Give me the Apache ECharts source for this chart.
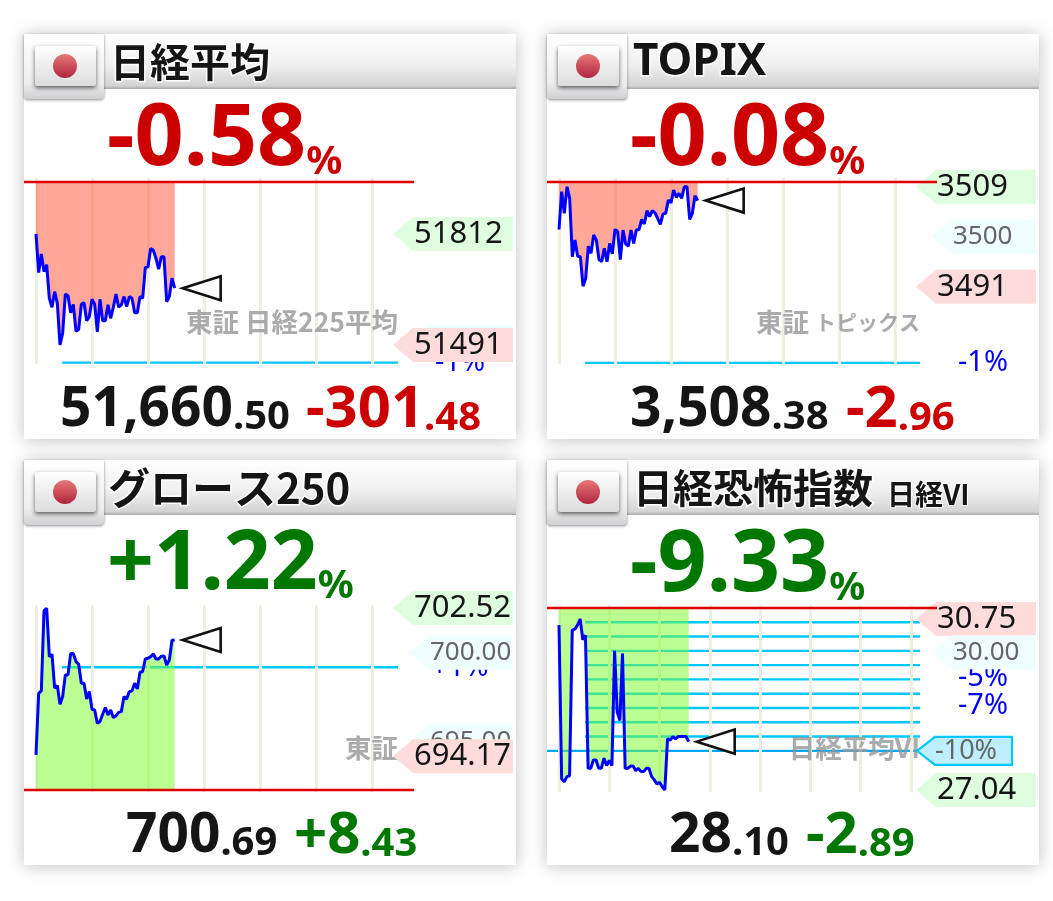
<!DOCTYPE html>
<html>
<head>
<meta charset="utf-8">
<style>html,body{margin:0;padding:0;background:#fff}#main{width:1053px;height:901px}</style>
<script src="https://cdn.jsdelivr.net/npm/echarts@6/dist/echarts.min.js"></script>
</head>
<body>
<div id="main"></div>
<script>
// intraday values
var nikkeiValues = [51812,51700,51754,51703,51723,51626,51600,51645,51611,51491,51525,51638,51633,51584,51608,51531,51536,51608,51614,51561,51573,51623,51609,51529,51623,51561,51561,51607,51568,51600,51638,51600,51607,51631,51602,51631,51626,51584,51584,51631,51626,51715,51717,51770,51765,51741,51710,51746,51746,51616,51631,51684,51655];
var topixValues = [3501.3,3508.1,3504.2,3509.0,3506.9,3496.4,3499.4,3496.5,3496.4,3491.1,3492.5,3498.3,3497.0,3500.3,3499.4,3495.9,3495.5,3497.9,3495.5,3498.8,3496.9,3501.3,3500.9,3495.9,3501.2,3498.7,3498.3,3501.2,3498.8,3501.2,3501.3,3503.1,3502.3,3504.7,3503.6,3504.7,3504.3,3503.3,3502.2,3504.1,3504.2,3506.6,3506.1,3508.4,3507.1,3507.8,3506.9,3509.0,3509.0,3503.1,3504.2,3507.4,3506.5];
var growthValues = [694.24,697.71,697.85,702.36,702.51,699.78,699.91,698.0,698.15,697.09,697.53,698.75,698.75,699.95,699.95,699.5,699.35,698.28,698.28,697.39,697.81,696.81,696.77,696.02,696.12,696.53,696.91,696.49,696.77,696.34,696.45,696.64,696.68,697.53,697.39,697.81,697.85,698.28,697.96,698.9,698.94,699.65,699.69,699.78,699.93,699.65,699.65,699.8,699.82,699.31,699.59,700.7,700.72];
var vixValues = [30.62,27.28,27.22,27.33,27.35,30.51,30.53,30.62,30.75,30.30,30.40,27.51,27.51,27.69,27.69,27.51,27.51,27.73,27.57,27.68,27.57,30.06,28.73,28.55,30.00,27.51,27.51,27.56,27.56,27.46,27.51,27.44,27.44,27.51,27.51,27.33,27.26,27.17,27.21,27.11,27.04,28.15,28.12,28.20,28.15,28.20,28.20,28.20,28.20,28.09];

var titles = ['日経平均', 'TOPIX', 'グロース250', '日経恐怖指数'];
var pctTexts = ['-0.58', '-0.08', '+1.22', '-9.33'];
var priceInts = ['51,660', '3,508', '700', '28'];
var priceDecs = ['.50', '.38', '.69', '.10'];
var chgInts = ['-301', '-2', '+8', '-2'];
var chgDecs = ['.48', '.96', '.43', '.89'];

var prevCloses = [51962, 3509.85, 692.26, 30.99];
var percentLevels = [[51440], [3477.3], [699.18], [30.68,30.37,30.06,29.75,29.44,29.13,28.82,28.51,28.2]];
var percentLabels = [['-1%'], ['-1%'], ['+1%'], [null,null,null,null,'-5%',null,'-7%',null,null]];
var tagLevels = [[51500,51812,51491], [3509,3500,3491], [702.52,700,695,694.17], [30.75,30.03,27.04]];
var tagTexts = [['51500','51812','51491'], ['3509','3500','3491'], ['702.52','700.00','695.00','694.17'], ['30.75','30.00','27.04']];
var tagKinds = [['mid','hi','lo'], ['hi','mid','lo'], ['hi','mid','mid','lo'], ['lo','mid','hi']];
var vixBand = {level: 27.89, text: '-10%'};

var RED = '#cc0000', GREEN = '#007800';
var textColors = [RED, RED, GREEN, GREEN];
var areaColors = ['rgba(255,80,50,0.5)', 'rgba(255,80,50,0.5)', 'rgba(120,255,40,0.5)', 'rgba(120,255,40,0.5)'];
var panels = [
  {x: 24, y: 34, data: nikkeiValues, yMin: 51436, yMax: 51973.6, gl: 36, gt: 178, gw: 336, gh: 186, iv: 21, max: 126, tip: 393, txt: 107, pctSize: 86, pr: 60, ch: 306, tx: 110, titleSize: 40, lineTo: 398, pctShift: 0},
  {x: 547, y: 34, data: topixValues, yMin: 3477.09, yMax: 3510.57, gl: 559, gt: 178, gw: 336, gh: 186, iv: 21, max: 126, tip: 916, txt: 630, pctSize: 86, pr: 630, ch: 846, tx: 633, titleSize: 44, lineTo: 920, pctShift: 0},
  {x: 24, y: 460, data: growthValues, yMin: 692.15, yMax: 702.69, gl: 36, gt: 605, gw: 336, gh: 187, iv: 21, max: 126, tip: 393, txt: 107, pctSize: 82, pr: 126, ch: 294, tx: 108, titleSize: 42, lineTo: 398, pctShift: 0},
  {x: 547, y: 460, data: vixValues, yMin: 26.997, yMax: 31.055, gl: 559, gt: 605, gw: 352, gh: 187, iv: 19, max: 133, tip: 916, txt: 630, pctSize: 86, pr: 669, ch: 806, tx: 633, titleSize: 40, lineTo: 920, pctShift: -2}
];
var CARD_W = 492, CARD_H = 405;
var NUM_FONT = '"Noto Sans", sans-serif';
var JP_FONT = '"Noto Sans CJK JP", sans-serif';
var WM_FONT = 'bold 26.5px ' + JP_FONT;
var WM_COLOR = 'rgba(150,150,150,0.8)';

// watermark text, the kana in TOPIX is narrower than the kanji
var watermarks = [
  {text: '東証 日経225平均', y: 322},
  {text: '{a|東証 }{b|トピックス}', y: 322},
  {text: '東証', y: 748},
  {text: '日経平均VI', y: 748}
];

var graphics = [], grids = [], xAxes = [], yAxes = [], series = [];

function hLine(n, level, x1, x2, color, width, z) {
  series.push({type: 'custom', xAxisIndex: n, yAxisIndex: n, z: z, silent: true, clip: false,
    data: [[0, level]],
    renderItem: function (params, api) {
      var c = api.coord([0, api.value(1)]);
      return {type: 'line', shape: {x1: x1, y1: c[1], x2: x2, y2: c[1]}, style: {stroke: color, lineWidth: width}};
    }});
}

panels.forEach(function (p, n) {
  var col = textColors[n];

  // card + header
  graphics.push({type: 'rect', z: -10, shape: {x: p.x, y: p.y, width: CARD_W, height: CARD_H},
    style: {fill: '#fff', shadowBlur: 16, shadowColor: 'rgba(0,0,0,0.25)', shadowOffsetY: 1}});
  graphics.push({type: 'rect', z: -9, shape: {x: p.x, y: p.y, width: CARD_W, height: 55},
    style: {fill: new echarts.graphic.LinearGradient(0, 0, 0, 1, [{offset: 0, color: '#ffffff'}, {offset: 0.55, color: '#f0f0f0'}, {offset: 0.94, color: '#d4d4d4'}, {offset: 1, color: '#a8a8a8'}])}});
  graphics.push({type: 'rect', z: -8, shape: {x: p.x, y: p.y, width: 80, height: 65, r: [0, 0, 4, 4]},
    style: {fill: new echarts.graphic.LinearGradient(0, 0, 0, 1, [{offset: 0, color: '#ffffff'}, {offset: 0.75, color: '#eeeeee'}, {offset: 1, color: '#cfd0d2'}]), shadowBlur: 3, shadowColor: 'rgba(0,0,0,0.45)', shadowOffsetY: 1}});
  graphics.push({type: 'rect', z: -7, shape: {x: p.x + 11, y: p.y + 12, width: 61, height: 40, r: 2},
    style: {fill: new echarts.graphic.LinearGradient(0, 0, 0, 1, [{offset: 0, color: '#ffffff'}, {offset: 1, color: '#dcdcdc'}]), shadowBlur: 4, shadowColor: 'rgba(0,0,0,0.6)', shadowOffsetY: 2}});
  graphics.push({type: 'circle', z: -6, shape: {cx: p.x + 41, cy: p.y + 32, r: 12},
    style: {fill: new echarts.graphic.LinearGradient(0, 0, 0, 1, [{offset: 0, color: '#e87878'}, {offset: 1, color: '#b02540'}])}});

  // title
  graphics.push({type: 'text', z: 6, style: {x: p.tx, y: p.y + 28, text: titles[n], fill: '#151515', stroke: '#fff', lineWidth: 3,
    font: 'bold ' + p.titleSize + 'px ' + (n === 1 ? NUM_FONT : JP_FONT), textVerticalAlign: 'middle'}});
  if (n === 3) {
    graphics.push({type: 'text', z: 6, style: {x: p.x + 340, y: p.y + 34, text: '日経VI', fill: '#151515', stroke: '#fff', lineWidth: 2,
      font: 'bold 28px ' + JP_FONT, textVerticalAlign: 'middle'}});
  }

  // change percent
  graphics.push({type: 'text', z: 6, style: {x: p.txt, y: p.y + 106, text: '{a|' + pctTexts[n] + '}{b|%}', textVerticalAlign: 'middle',
    rich: {a: {font: 'bold ' + p.pctSize + 'px ' + NUM_FONT, fill: col, verticalAlign: 'bottom'}, b: {font: 'bold 40px ' + NUM_FONT, fill: col, verticalAlign: 'bottom'}}}});

  // bottom prices
  graphics.push({type: 'text', z: 6, style: {x: p.pr, y: p.y + 376, text: '{a|' + priceInts[n] + '}{b|' + priceDecs[n] + '}', textVerticalAlign: 'middle',
    rich: {a: {font: 'bold 55px ' + NUM_FONT, fill: '#151515', verticalAlign: 'bottom'}, b: {font: 'bold 40px ' + NUM_FONT, fill: '#151515', verticalAlign: 'bottom'}}}});
  graphics.push({type: 'text', z: 6, style: {x: p.ch, y: p.y + 376, text: '{a|' + chgInts[n] + '}{b|' + chgDecs[n] + '}', textVerticalAlign: 'middle',
    rich: {a: {font: 'bold 58px ' + NUM_FONT, fill: col, verticalAlign: 'bottom'}, b: {font: 'bold 40px ' + NUM_FONT, fill: col, verticalAlign: 'bottom'}}}});

  // exchange watermark
  graphics.push({type: 'text', z: 4, style: {x: p.lineTo, y: watermarks[n].y, text: watermarks[n].text, fill: WM_COLOR,
    font: WM_FONT, textAlign: 'right', textVerticalAlign: 'middle',
    rich: {a: {font: WM_FONT, fill: WM_COLOR}, b: {font: 'bold 21px ' + JP_FONT, fill: WM_COLOR}}}});

  grids.push({left: p.gl, top: p.gt, width: p.gw, height: p.gh});
  xAxes.push({type: 'value', gridIndex: n, min: 0, max: p.max, interval: p.iv, z: 1,
    axisLine: {show: false}, axisTick: {show: false}, axisLabel: {show: false},
    splitLine: {show: true, lineStyle: {color: '#efeee3', width: 3}}});
  yAxes.push({type: 'value', gridIndex: n, min: p.yMin, max: p.yMax, show: false});

  // percent guide lines
  percentLevels[n].forEach(function (lv) {
    hLine(n, lv, p.x + 38, p.lineTo, '#00c8ff', 2.4, 0);
  });
  if (n === 3) hLine(n, vixBand.level, p.x, p.lineTo, '#00a8f8', 2.2, 0);

  // previous close line
  hLine(n, prevCloses[n], p.x, p.x + 390, '#e00000', 2.4, 6);

  // price line with fill up to the previous close
  series.push({type: 'line', xAxisIndex: n, yAxisIndex: n, z: 2, symbol: 'none', clip: false,
    lineStyle: {color: '#0000ff', width: 3},
    areaStyle: {origin: prevCloses[n], opacity: 1, color: areaColors[n]},
    data: p.data.map(function (v, i) { return [i, v]; })});

  // percent labels, then price tags on top of them
  var pctRows = [];
  percentLabels[n].forEach(function (t, i) { if (t) pctRows.push({t: t, lv: percentLevels[n][i]}); });
  series.push({type: 'custom', xAxisIndex: n, yAxisIndex: n, z: 4, silent: true, clip: false,
    data: pctRows.map(function (r) { return [0, r.lv]; }),
    renderItem: function (params, api) {
      var c = api.coord([0, api.value(1)]);
      return {type: 'text', style: {x: p.x + 436, y: c[1] + p.pctShift, text: pctRows[params.dataIndex].t, fill: '#0000ff',
        font: '29px ' + NUM_FONT, textAlign: 'center', textVerticalAlign: 'middle'}};
    }});

  var tagFill = {hi: '#dffedf', lo: '#ffdcdc', mid: '#effefe'};
  series.push({type: 'custom', xAxisIndex: n, yAxisIndex: n, z: 5, silent: true, clip: false,
    data: tagLevels[n].map(function (v) { return [0, v]; }),
    renderItem: function (params, api) {
      var c = api.coord([0, api.value(1)]);
      var k = tagKinds[n][params.dataIndex];
      var tip = k === 'mid' ? p.tip + 16 : p.tip;
      var body = tip + 20, right = p.x + 489;
      return {type: 'group', children: [
        {type: 'polygon', shape: {points: [[tip, c[1]], [body, c[1] - 17], [right, c[1] - 17], [right, c[1] + 17], [body, c[1] + 17]]}, style: {fill: tagFill[k]}},
        {type: 'text', style: {x: body + 1, y: c[1], text: tagTexts[n][params.dataIndex], fill: k === 'mid' ? '#666' : '#151515',
          font: (k === 'mid' ? 26 : 31) + 'px ' + NUM_FONT, textVerticalAlign: 'middle'}}
      ]};
    }});

  // current price marker
  series.push({type: 'custom', xAxisIndex: n, yAxisIndex: n, z: 5, silent: true, clip: false,
    data: [[p.data.length - 1, p.data[p.data.length - 1]]],
    renderItem: function (params, api) {
      var c = api.coord([api.value(0), api.value(1)]);
      var x = c[0] + 8, y = c[1];
      return {type: 'polygon', shape: {points: [[x, y], [x + 38, y - 12], [x + 38, y + 12]]},
        style: {fill: '#fff', stroke: '#111', lineWidth: 2.6}};
    }});

  if (n === 3) {
    series.push({type: 'custom', xAxisIndex: n, yAxisIndex: n, z: 5, silent: true, clip: false,
      data: [[0, vixBand.level]],
      renderItem: function (params, api) {
        var c = api.coord([0, api.value(1)]);
        var t = 917, b = 935, r = 1012;
        return {type: 'group', children: [
          {type: 'polygon', shape: {points: [[t, c[1]], [b, c[1] - 14], [r, c[1] - 14], [r, c[1] + 14], [b, c[1] + 14]]},
            style: {fill: '#bfefff', stroke: '#00c8ff', lineWidth: 2.2}},
          {type: 'text', style: {x: b, y: c[1], text: vixBand.text, fill: '#666', font: '27px ' + NUM_FONT, textVerticalAlign: 'middle'}}
        ]};
      }});
  }
});

var myChart = echarts.init(document.getElementById('main'));
var option = {
  animation: false,
  backgroundColor: '#fff',
  grid: grids,
  xAxis: xAxes,
  yAxis: yAxes,
  graphic: graphics,
  series: series
};
myChart.setOption(option);
</script>
</body>
</html>
